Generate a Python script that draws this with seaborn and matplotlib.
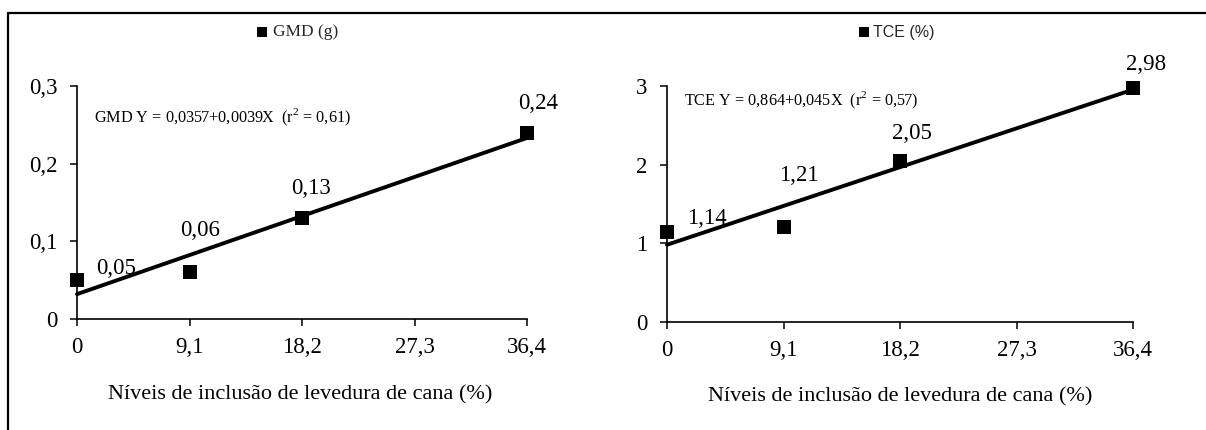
import matplotlib
matplotlib.use("Agg")
import matplotlib.pyplot as plt
import seaborn as sns
import pandas as pd
from matplotlib.lines import Line2D

# ---- data ----
levels = [0, 9.1, 18.2, 36.4]
x_ticks = [0, 9.1, 18.2, 27.3, 36.4]
x_tick_labels = ["0", "9,1", "18,2", "27,3", "36,4"]
gmd = [0.05, 0.06, 0.13, 0.24]
gmd_labels = ["0,05", "0,06", "0,13", "0,24"]
gmd_yticks = [0, 0.1, 0.2, 0.3]
gmd_ytick_labels = ["0", "0,1", "0,2", "0,3"]
tce = [1.14, 1.21, 2.05, 2.98]
tce_labels = ["1,14", "1,21", "2,05", "2,98"]
tce_yticks = [0, 1, 2, 3]
tce_ytick_labels = ["0", "1", "2", "3"]
xlabel = "Níveis de inclusão de levedura de cana (%)"
gmd_legend = "GMD (g)"
tce_legend = "TCE (%)"
gmd_eq = "GMD Y = 0,0357+0,0039X  (r$^2$ = 0,61)"
tce_eq = "TCE Y = 0,864+0,045X  (r$^2$ = 0,57)"

# label offsets (pixels, right/up) - styling only
gmd_off = [(39, 12), (11, 42), (9, 30), (11, 29)]
tce_off = [(40, 14), (15, 51), (12, 27), (13, 23)]

sns.set_theme(style="white")
plt.rcParams["font.family"] = ["Liberation Serif", "DejaVu Serif"]
plt.rcParams["mathtext.fontset"] = "custom"
plt.rcParams["mathtext.rm"] = "Liberation Serif"

fig = plt.figure(figsize=(12.06, 4.30), dpi=100)
ax1 = fig.add_axes([77 / 1206, (430 - 319) / 430, 450 / 1206, 233 / 430])
ax2 = fig.add_axes([667 / 1206, (430 - 322) / 430, 466 / 1206, 236 / 430])

df1 = pd.DataFrame({"x": levels, "y": gmd})
df2 = pd.DataFrame({"x": levels, "y": tce})


def panel(ax, df, labels, offs, yticks, yticklabels, ylim, eq, eq_xy, leg, leg_font, leg_x):
    sns.regplot(data=df, x="x", y="y", ax=ax, ci=None, color="black", marker="s",
                scatter_kws={"s": 110, "alpha": 1, "clip_on": False, "zorder": 3, "linewidths": 0},
                line_kws={"lw": 2.8, "clip_on": False, "zorder": 2})
    ax.set_xlim(0, 36.4)
    ax.set_ylim(*ylim)
    ax.set_xticks(x_ticks)
    ax.set_xticklabels(x_tick_labels)
    ax.set_yticks(yticks)
    ax.set_yticklabels(yticklabels)
    ax.tick_params(axis="both", direction="out", length=5, width=1.1, colors="black",
                   labelsize=16.5, bottom=True, left=True)
    ax.tick_params(axis="x", pad=8)
    ax.tick_params(axis="y", pad=9)
    for s in ["top", "right"]:
        ax.spines[s].set_visible(False)
    for s in ["left", "bottom"]:
        ax.spines[s].set_color("black")
        ax.spines[s].set_linewidth(1.2)
    ax.set_xlabel("")
    ax.set_ylabel("")
    ax.set_facecolor("none")
    for xv, yv, t, (dx, dy) in zip(df["x"], df["y"], labels, offs):
        ax.annotate(t, (xv, yv), xytext=(dx * 0.72, dy * 0.72), textcoords="offset points",
                    ha="center", va="center", fontsize=16.5, color="black", annotation_clip=False)
    ax.text(eq_xy[0], eq_xy[1], eq, transform=fig.transFigure, fontsize=11.7,
            ha="left", va="center", color="black")
    handle = ax.collections[0]
    fig.legend([handle], [leg], loc="center left", bbox_to_anchor=(leg_x, 1 - 32 / 430),
               frameon=False, markerscale=0.65, handlelength=0.6, handletextpad=0.3,
               borderpad=0, borderaxespad=0, prop=leg_font)


panel(ax1, df1, gmd_labels, gmd_off, gmd_yticks, gmd_ytick_labels, (0, 0.3),
      gmd_eq, (94 / 1206, 1 - 117 / 430), gmd_legend,
      {"family": ["Liberation Serif"], "size": 12.5}, 257 / 1206)
panel(ax2, df2, tce_labels, tce_off, tce_yticks, tce_ytick_labels, (0, 3),
      tce_eq, (684 / 1206, 1 - 100 / 430), tce_legend,
      {"family": ["Liberation Sans"], "size": 11.5}, 859 / 1206)

# x labels placed in figure coordinates
fig.text(300 / 1206, 1 - 395 / 430, xlabel, ha="center", va="center", fontsize=16, color="black")
fig.text(900 / 1206, 1 - 397 / 430, xlabel, ha="center", va="center", fontsize=16, color="black")

# outer frame (left and top lines)
fig.add_artist(Line2D([8 / 1206, 8 / 1206], [0, 1 - 13 / 430], transform=fig.transFigure,
                      color="black", lw=1.6))
fig.add_artist(Line2D([8 / 1206, 1], [1 - 13 / 430, 1 - 13 / 430], transform=fig.transFigure,
                      color="black", lw=1.6))

fig.savefig("out.png", dpi=100, facecolor="white")
